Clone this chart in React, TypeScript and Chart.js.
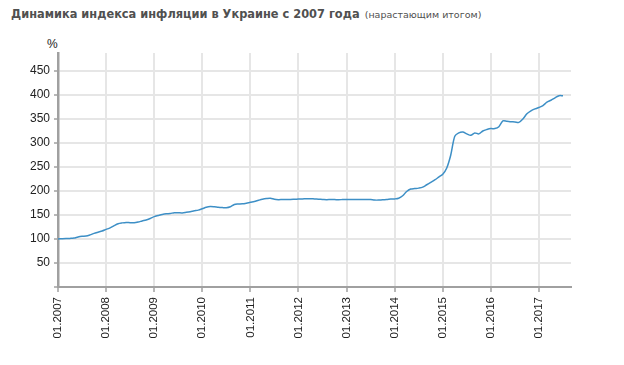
import React, { useEffect, useRef } from 'react';
import { Chart, registerables } from 'chart.js';

Chart.register(...registerables);

const titleMain = 'Динамика индекса инфляции в Украине с 2007 года';
const titleSub = '(нарастающим итогом)';
const yUnit = '%';

const yearLabels = ['01.2007', '01.2008', '01.2009', '01.2010', '01.2011', '01.2012', '01.2013', '01.2014', '01.2015', '01.2016', '01.2017'];
const yTickValues = [0, 50, 100, 150, 200, 250, 300, 350, 400, 450];

// Cumulative inflation index, monthly, 01.2007 … 07.2017
const v2007 = [100.0, 100.6, 101.1, 101.3, 101.9, 104.2, 105.6, 106.2, 108.6, 111.7, 114.2, 116.6];
const v2008 = [120.0, 123.2, 127.9, 131.9, 133.6, 134.6, 134.0, 133.8, 135.3, 137.6, 139.7, 142.6];
const v2009 = [146.7, 148.9, 151.0, 152.4, 153.1, 154.8, 154.7, 154.4, 155.6, 157.0, 158.7, 160.2];
const v2010 = [163.0, 166.1, 167.6, 167.1, 166.1, 165.5, 165.1, 167.1, 172.0, 172.8, 173.3, 174.7];
const v2011 = [176.5, 178.1, 180.6, 182.9, 184.4, 185.1, 182.7, 182.0, 182.2, 182.2, 182.3, 182.7];
const v2012 = [183.1, 183.4, 184.0, 184.0, 183.4, 182.9, 182.5, 182.0, 182.2, 182.2, 181.8, 182.2];
const v2013 = [182.5, 182.3, 182.3, 182.3, 182.5, 182.5, 182.3, 181.1, 181.1, 181.8, 182.1, 183.1];
const v2014 = [183.5, 185.0, 190.0, 199.0, 204.0, 205.0, 206.0, 208.0, 213.0, 218.0, 223.0, 229.0];
const v2015 = [235.0, 248.0, 275.0, 314.0, 321.0, 323.0, 319.0, 316.0, 321.0, 319.0, 325.0, 328.0];
const v2016 = [330.0, 330.0, 334.0, 346.0, 345.5, 344.5, 344.0, 343.0, 350.0, 361.0, 367.0, 371.0];
const v2017 = [374.0, 378.0, 385.0, 389.0, 394.0, 398.5, 398.5];

const values = [...v2007, ...v2008, ...v2009, ...v2010, ...v2011, ...v2012, ...v2013, ...v2014, ...v2015, ...v2016, ...v2017];

const FONT = "'Liberation Sans', Arial, sans-serif";

export default function App() {
  const ref = useRef<HTMLCanvasElement>(null);
  useEffect(() => {
    const chart = new Chart(ref.current!, {
      type: 'line',
      data: {
        datasets: [
          {
            data: values.map((v, i) => ({ x: i, y: v })),
            borderColor: '#3d8fc6',
            borderWidth: 1.5,
            pointRadius: 0,
            tension: 0.3,
            fill: false,
          },
        ],
      },
      options: {
        animation: false,
        responsive: false,
        layout: { padding: { left: 0, right: 53, top: 53, bottom: 0 } },
        plugins: { legend: { display: false }, tooltip: { enabled: false }, title: { display: false } },
        scales: {
          x: {
            type: 'linear',
            min: 0,
            max: 128,
            afterBuildTicks: (s: any) => {
              s.ticks = yearLabels.map((_, i) => ({ value: i * 12 }));
            },
            afterFit: (s: any) => {
              s.height = 78;
            },
            grid: { color: '#e6e6e6', lineWidth: 2, tickLength: 5, tickColor: '#a0a0a0', tickWidth: 1.5 },
            border: { color: '#a0a0a0', width: 2 },
            ticks: {
              autoSkip: false,
              minRotation: 90,
              maxRotation: 90,
              padding: 5,
              color: '#222',
              font: { family: FONT, size: 11.5 },
              callback: (v: any) => yearLabels[Math.round(v / 12)] ?? '',
            },
          },
          y: {
            min: 0,
            max: 487.5,
            afterBuildTicks: (s: any) => {
              s.ticks = yTickValues.map((v) => ({ value: v }));
            },
            afterFit: (s: any) => {
              s.width = 58;
            },
            grid: { color: '#e6e6e6', lineWidth: 2, tickLength: 4, tickColor: '#a0a0a0', tickWidth: 1.5 },
            border: { color: '#a0a0a0', width: 2.5 },
            ticks: {
              padding: 4,
              color: '#222',
              font: { family: FONT, size: 12 },
              callback: (v: any) => (v === 0 ? '' : String(v)),
            },
          },
        },
      },
    });
    return () => chart.destroy();
  }, []);

  return (
    <div style={{ position: 'fixed', left: 0, top: 0, width: 624, height: 365, background: '#fff' }}>
      <div
        style={{
          position: 'absolute',
          left: 11,
          top: 6,
          whiteSpace: 'nowrap',
          fontFamily: "'DejaVu Sans', Verdana, sans-serif",
          color: '#505050',
          lineHeight: '14px',
        }}
      >
        <span style={{ fontWeight: 'bold', fontSize: 11.4 }}>{titleMain}</span>{' '}
        <span style={{ fontSize: 9.5 }}>{titleSub}</span>
      </div>
      <div
        style={{
          position: 'absolute',
          left: 47,
          top: 37,
          fontFamily: FONT,
          fontSize: 12,
          color: '#222',
          lineHeight: '14px',
        }}
      >
        {yUnit}
      </div>
      <canvas ref={ref} width={624} height={365} style={{ display: 'block', position: 'absolute', left: 0, top: 0 }} />
    </div>
  );
}
